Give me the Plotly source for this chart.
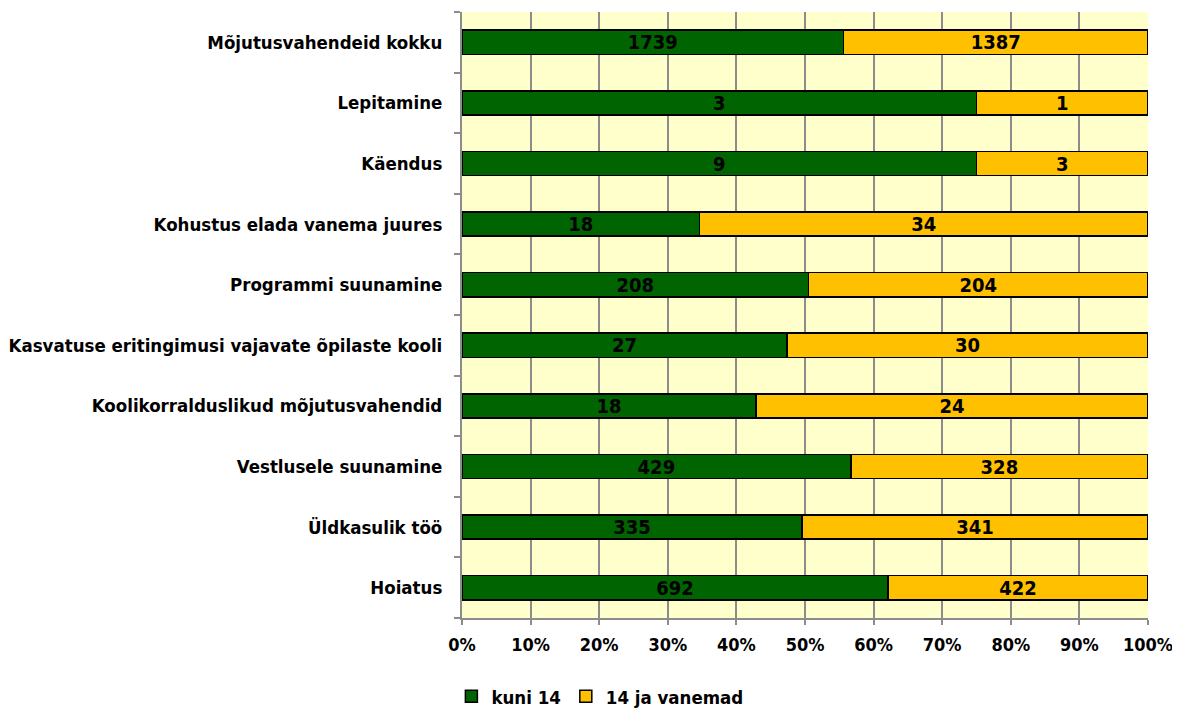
import plotly.graph_objects as go

# andmed (alt üles)
kategooriad = [
    "Hoiatus",
    "Üldkasulik töö",
    "Vestlusele suunamine",
    "Koolikorralduslikud mõjutusvahendid",
    "Kasvatuse eritingimusi vajavate õpilaste kooli",
    "Programmi suunamine",
    "Kohustus elada vanema juures",
    "Käendus",
    "Lepitamine",
    "Mõjutusvahendeid kokku",
]
kuni_14 = [692, 335, 429, 18, 27, 208, 18, 9, 3, 1739]
vanemad_14 = [422, 341, 328, 24, 30, 204, 34, 3, 1, 1387]
x_ticks = [0, 10, 20, 30, 40, 50, 60, 70, 80, 90, 100]

FONT = "DejaVu Sans Condensed, DejaVu Sans, sans-serif"

fig = go.Figure()

fig.add_trace(go.Bar(
    y=kategooriad, x=kuni_14, name="kuni 14", orientation="h",
    marker=dict(color="#006400", line=dict(color="black", width=1.5)),
    text=kuni_14, textposition="inside", insidetextanchor="middle",
    constraintext="none", textangle=0,
    textfont=dict(family=FONT, size=20, color="black", weight="bold"),
))
fig.add_trace(go.Bar(
    y=kategooriad, x=vanemad_14, name="14 ja vanemad", orientation="h",
    marker=dict(color="#FFC000", line=dict(color="black", width=1.5)),
    text=vanemad_14, textposition="inside", insidetextanchor="middle",
    constraintext="none", textangle=0,
    textfont=dict(family=FONT, size=20, color="black", weight="bold"),
))

# lehe body-l on 8px veeris, seega joonis on 8px võrra väiksem
fig.update_layout(
    barmode="stack",
    barnorm="percent",
    bargap=0.6,
    width=1172, height=702,
    margin=dict(l=454, r=32, t=4, b=92, autoexpand=False),
    plot_bgcolor="#FFFFCC",
    paper_bgcolor="white",
    font=dict(family=FONT, size=18, color="black", weight="bold"),
    legend=dict(
        orientation="h", x=0.201, xanchor="center", y=-0.13, yanchor="middle",
        font=dict(size=18.5), traceorder="normal", itemwidth=30,
    ),
    xaxis=dict(
        range=[0, 100], tickvals=x_ticks,
        ticktext=[f"{v}%" for v in x_ticks],
        showgrid=True, gridcolor="#8C8C8C", gridwidth=2,
        showline=True, linecolor="#8C8C8C", linewidth=2,
        ticks="outside", ticklen=5, tickcolor="#8C8C8C", tickwidth=2,
        ticklabelstandoff=4,
        zeroline=False, fixedrange=True, automargin=False,
    ),
    yaxis=dict(
        type="category", categoryorder="array", categoryarray=kategooriad,
        showgrid=False, showline=True, linecolor="#8C8C8C", linewidth=2,
        ticks="outside", ticklen=6, tickcolor="#8C8C8C", tickwidth=2,
        tickson="boundaries", ticklabelstandoff=14, automargin=False,
        tickfont=dict(size=18.5),
    ),
)

fig.write_html("out.html")
